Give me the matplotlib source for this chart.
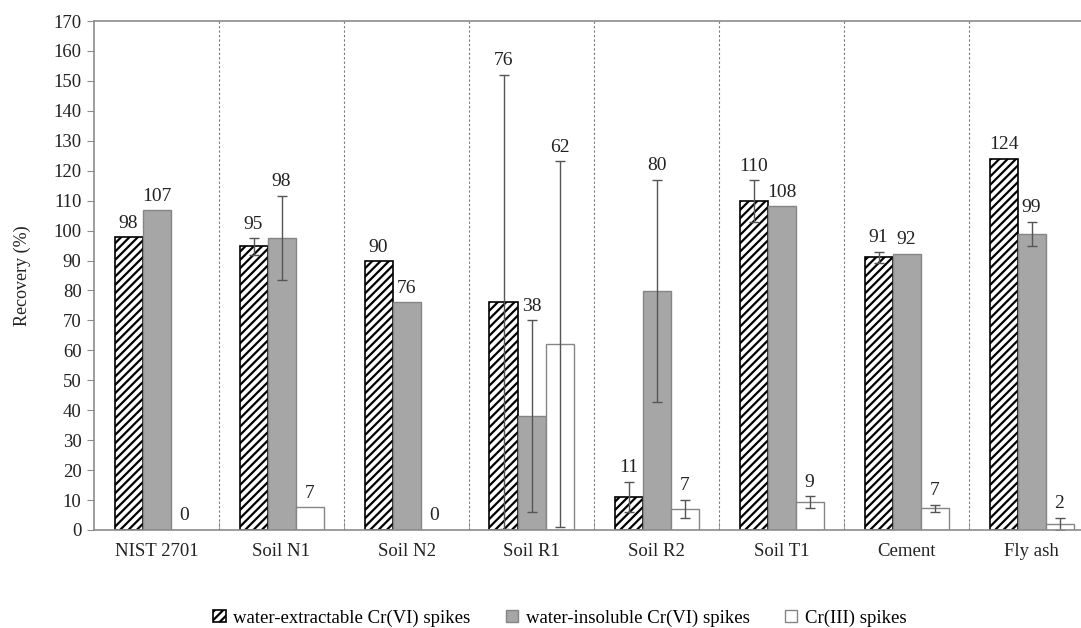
import numpy as np
import matplotlib
matplotlib.use('Agg')
import matplotlib.pyplot as plt

# Recovery of spikes per sample
samples = ['NIST 2701', 'Soil N1', 'Soil N2', 'Soil R1', 'Soil R2', 'Soil T1', 'Cement', 'Fly ash']

extractable = [97.8, 94.7, 89.8, 76.3, 11.1, 109.8, 91.1, 124.0]
extractable_err = [0, 2.8, 0, 75.8, 5.0, 7.0, 1.8, 0]
extractable_lbl = [98, 95, 90, 76, 11, 110, 91, 124]

insoluble = [106.8, 97.6, 76.0, 38.0, 79.9, 108.1, 92.3, 99.0]
insoluble_err = [0, 14.0, 0, 32.0, 37.0, 0, 0, 4.0]
insoluble_lbl = [107, 98, 76, 38, 80, 108, 92, 99]

cr3 = [0, 7.6, 0, 62.1, 7.1, 9.2, 7.3, 2.0]
cr3_err = [0, 0, 0, 61.0, 3.0, 2.0, 1.2, 2.0]
cr3_lbl = [0, 7, 0, 62, 7, 9, 7, 2]

plt.rcParams['font.family'] = ['Liberation Serif', 'DejaVu Serif']
plt.rcParams['font.size'] = 13.5
plt.rcParams['hatch.linewidth'] = 1.6

axis_col = '#8c8c8c'
text_col = '#222222'

fig = plt.figure(figsize=(10.81, 6.28), dpi=100)
ax = fig.add_axes([94 / 1081, 98 / 628, 1000 / 1081, 509 / 628])

x = np.arange(len(samples))
w = 0.224
err_kw = dict(fmt='none', ecolor='#555555', elinewidth=1.0, capsize=3.5, capthick=1.0)


def draw_err(xpos, vals, errs):
    # only bars with a non-zero error get an error bar
    xpos, vals, errs = np.asarray(xpos), np.asarray(vals), np.asarray(errs)
    m = errs > 0
    ax.errorbar(xpos[m], vals[m], yerr=errs[m], **err_kw)


b1 = ax.bar(x - w, extractable, w, facecolor='white', edgecolor='black', hatch='////',
            linewidth=1.2, label='water-extractable Cr(VI) spikes')
draw_err(x - w, extractable, extractable_err)
b2 = ax.bar(x, insoluble, w, facecolor='#a6a6a6', edgecolor='#858585',
            linewidth=1.0, label='water-insoluble Cr(VI) spikes')
draw_err(x, insoluble, insoluble_err)
b3 = ax.bar(x + w, cr3, w, facecolor='white', edgecolor='#858585',
            linewidth=1.0, label='Cr(III) spikes')
draw_err(x + w, cr3, cr3_err)

# value labels above bar / error bar
for off, vals, errs, lbls in [(-w, extractable, extractable_err, extractable_lbl),
                              (0, insoluble, insoluble_err, insoluble_lbl),
                              (w, cr3, cr3_err, cr3_lbl)]:
    for xi, v, e, l in zip(x, vals, errs, lbls):
        ax.annotate(str(l), (xi + off, v + e), xytext=(0, 4), textcoords='offset points',
                    ha='center', va='bottom', color=text_col, fontsize=14)

# dotted separators between samples
for b in x[:-1] + 0.5:
    ax.axvline(b, color='#777777', linestyle=(0, (2, 2)), linewidth=0.8, zorder=0)

ax.set_xlim(-0.5, len(samples) - 0.5)
ax.set_ylim(0, 170)
ax.set_yticks(np.arange(0, 171, 10))
ax.set_xticks(x)
ax.set_xticklabels(samples, color=text_col)
ax.set_xticks(x[:-1] + 0.5, minor=True)
ax.tick_params(axis='x', which='major', length=0, pad=9)
ax.tick_params(axis='x', which='minor', direction='in', length=6, color=axis_col)
ax.tick_params(axis='y', direction='out', length=5, color=axis_col, labelcolor=text_col, pad=4)
ax.set_ylabel('Recovery (%)', color=text_col, labelpad=16, fontsize=13)

for s in ['left', 'bottom', 'top']:
    ax.spines[s].set_color(axis_col)
    ax.spines[s].set_linewidth(1.2)
ax.spines['right'].set_visible(False)

fig.legend(handles=[b1, b2, b3], loc='center', bbox_to_anchor=(560 / 1081, 1 - 618 / 628),
           ncol=3, frameon=False, handlelength=0.65, handleheight=0.65,
           handletextpad=0.4, columnspacing=1.9, fontsize=13.5)

fig.savefig('out.png', dpi=100)
